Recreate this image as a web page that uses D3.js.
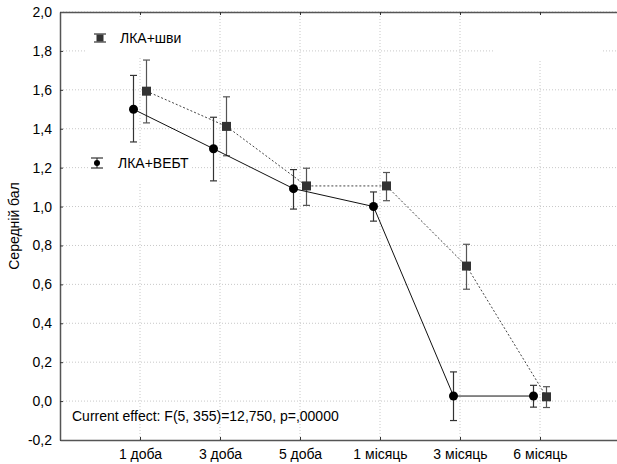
<!DOCTYPE html>
<html>
<head>
<meta charset="utf-8">
<script src="https://cdn.jsdelivr.net/npm/d3@7"></script>
<style>
	body { margin: 0; background: #fff; }
	svg { font-family: "Liberation Sans", Arial, sans-serif; }
</style>
</head>
<body>
<div id="chart"></div>
<script>
var categories = ["1 доба", "3 доба", "5 доба", "1 місяць", "3 місяць", "6 місяць"];
var yTicks = [-0.2, 0, 0.2, 0.4, 0.6, 0.8, 1.0, 1.2, 1.4, 1.6, 1.8, 2.0];

//ЛКА+ВЕБТ (circles, solid line)
var vebtMean = [1.50, 1.297, 1.092, 1.00, 0.026, 0.026];
var vebtLow = [1.332, 1.132, 0.987, 0.925, -0.10, -0.031];
var vebtHigh = [1.674, 1.459, 1.19, 1.075, 0.15, 0.081];

//ЛКА+шви (squares, dotted line)
var shvyMean = [1.593, 1.412, 1.106, 1.106, 0.694, 0.022];
var shvyLow = [1.43, 1.261, 1.006, 1.03, 0.575, -0.033];
var shvyHigh = [1.753, 1.564, 1.197, 1.175, 0.806, 0.074];

var effectText = "Current effect: F(5, 355)=12,750, p=,00000";
var yLabel = "Середній бал";

var width = 617, height = 464;
var margin = {top: 12, right: -3, bottom: 24, left: 60};
var fontSize = 14;

var locale = d3.formatLocale({decimal: ",", thousands: " ", grouping: [3], currency: ["", ""], minus: "-"});
var fmt = locale.format(".1f");

var svg = d3.select("#chart").append("svg")
	.attr("width", width)
	.attr("height", height);

var x = d3.scaleLinear()
	.domain([0, categories.length + 1])
	.range([margin.left, width - margin.right]);
var y = d3.scaleLinear()
	.domain([-0.2, 2.0])
	.range([height - margin.bottom, margin.top]);

var x0 = x.range()[0], x1 = x.range()[1];
var y0 = y.range()[0], y1 = y.range()[1];
var idx = d3.range(1, categories.length + 1);

//Grid
var grid = svg.append("g").attr("stroke", "#c8c8c8").attr("stroke-dasharray", "1,2");
grid.selectAll(".h").data(yTicks.slice(1)).enter().append("line")
	.attr("x1", x0).attr("x2", x1)
	.attr("y1", function(d){ return y(d); }).attr("y2", function(d){ return y(d); });
grid.selectAll(".v").data(idx).enter().append("line")
	.attr("x1", function(d){ return x(d); }).attr("x2", function(d){ return x(d); })
	.attr("y1", y0).attr("y2", y1);

//Legend background boxes (hide the grid like the original)
svg.append("rect").attr("x", 86).attr("y", 20).attr("width", 104).attr("height", 38).attr("fill", "#fff");
svg.append("rect").attr("x", 88).attr("y", 150).attr("width", 102).attr("height", 34).attr("fill", "#fff");
svg.append("rect").attr("x", 494).attr("y", 14).attr("width", 108).attr("height", 46).attr("fill", "#fff");

//Axes
var yAxis = d3.axisLeft(y).tickValues(yTicks).tickFormat(fmt).tickSizeInner(-3).tickSizeOuter(0).tickPadding(8);
var xAxis = d3.axisBottom(x).tickValues(idx).tickFormat(function(d){ return categories[d - 1]; })
	.tickSizeInner(-3).tickSizeOuter(0).tickPadding(9);
var xTop = d3.axisTop(x).tickValues(idx).tickFormat("").tickSizeInner(-3).tickSizeOuter(0);

svg.append("g").attr("transform", "translate(" + x0 + ",0)").call(yAxis);
svg.append("g").attr("transform", "translate(0," + y0 + ")").call(xAxis);
svg.append("g").attr("transform", "translate(0," + y1 + ")").call(xTop);

svg.selectAll(".domain").attr("stroke", "#555").attr("stroke-width", 1.5);
svg.selectAll(".tick line").attr("stroke", "#333");
svg.selectAll(".tick text").attr("font-size", fontSize).attr("fill", "#000")
	.attr("font-family", "Liberation Sans, Arial, sans-serif");

//Series
function drawSeries(mean, low, high, off, opts){
	var g = svg.append("g");
	var line = d3.line()
		.x(function(d, i){ return x(i + 1) + off; })
		.y(function(d){ return y(d); });
	g.append("path").datum(mean)
		.attr("d", line)
		.attr("fill", "none")
		.attr("stroke", opts.lineColor)
		.attr("stroke-width", 1)
		.attr("stroke-dasharray", opts.dash);

	var cap = 3.5;
	var eb = g.selectAll(".eb").data(mean).enter().append("g")
		.attr("stroke", opts.barColor).attr("stroke-width", 1.2);
	eb.append("line")
		.attr("x1", function(d, i){ return x(i + 1) + off; })
		.attr("x2", function(d, i){ return x(i + 1) + off; })
		.attr("y1", function(d, i){ return y(low[i]); })
		.attr("y2", function(d, i){ return y(high[i]); });
	eb.append("line")
		.attr("x1", function(d, i){ return x(i + 1) + off - cap; })
		.attr("x2", function(d, i){ return x(i + 1) + off + cap; })
		.attr("y1", function(d, i){ return y(low[i]); })
		.attr("y2", function(d, i){ return y(low[i]); });
	eb.append("line")
		.attr("x1", function(d, i){ return x(i + 1) + off - cap; })
		.attr("x2", function(d, i){ return x(i + 1) + off + cap; })
		.attr("y1", function(d, i){ return y(high[i]); })
		.attr("y2", function(d, i){ return y(high[i]); });

	if (opts.shape === "circle"){
		g.selectAll(".pt").data(mean).enter().append("circle")
			.attr("cx", function(d, i){ return x(i + 1) + off; })
			.attr("cy", function(d){ return y(d); })
			.attr("r", 4.5)
			.attr("fill", "#000");
	} else {
		g.selectAll(".pt").data(mean).enter().append("rect")
			.attr("x", function(d, i){ return x(i + 1) + off - 4.5; })
			.attr("y", function(d){ return y(d) - 4.5; })
			.attr("width", 9).attr("height", 9)
			.attr("fill", "#333");
	}
}

drawSeries(shvyMean, shvyLow, shvyHigh, 6.5, {shape: "square", lineColor: "#444", barColor: "#555", dash: "2,2"});
drawSeries(vebtMean, vebtLow, vebtHigh, -6.5, {shape: "circle", lineColor: "#111", barColor: "#333", dash: null});

//Legend
var leg1 = svg.append("g").attr("transform", "translate(100,38)");
leg1.append("line").attr("x1", -6).attr("x2", 6).attr("y1", -4).attr("y2", -4).attr("stroke", "#333").attr("stroke-width", 1.2);
leg1.append("line").attr("x1", -6).attr("x2", 6).attr("y1", 4).attr("y2", 4).attr("stroke", "#333").attr("stroke-width", 1.2);
leg1.append("rect").attr("x", -3.5).attr("y", -3.5).attr("width", 7).attr("height", 7).attr("fill", "#333");
leg1.append("text").attr("x", 20).attr("y", 5).attr("font-size", fontSize).text("ЛКА+шви");

var leg2 = svg.append("g").attr("transform", "translate(97,163)");
leg2.append("line").attr("x1", -6).attr("x2", 6).attr("y1", -5).attr("y2", -5).attr("stroke", "#333").attr("stroke-width", 1.2);
leg2.append("line").attr("x1", -6).attr("x2", 6).attr("y1", 5).attr("y2", 5).attr("stroke", "#333").attr("stroke-width", 1.2);
leg2.append("line").attr("x1", 0).attr("x2", 0).attr("y1", -5).attr("y2", 5).attr("stroke", "#333").attr("stroke-width", 1.2);
leg2.append("circle").attr("r", 3).attr("fill", "#000");
leg2.append("text").attr("x", 21).attr("y", 5).attr("font-size", fontSize).text("ЛКА+ВЕБТ");

//Effect text
svg.append("text").attr("x", 72).attr("y", 421).attr("font-size", fontSize).text(effectText);

//Y axis title
svg.append("text")
	.attr("text-anchor", "middle")
	.attr("font-size", fontSize)
	.attr("transform", "translate(19," + ((y0 + y1) / 2) + ")rotate(-90)")
	.text(yLabel);
</script>
</body>
</html>
